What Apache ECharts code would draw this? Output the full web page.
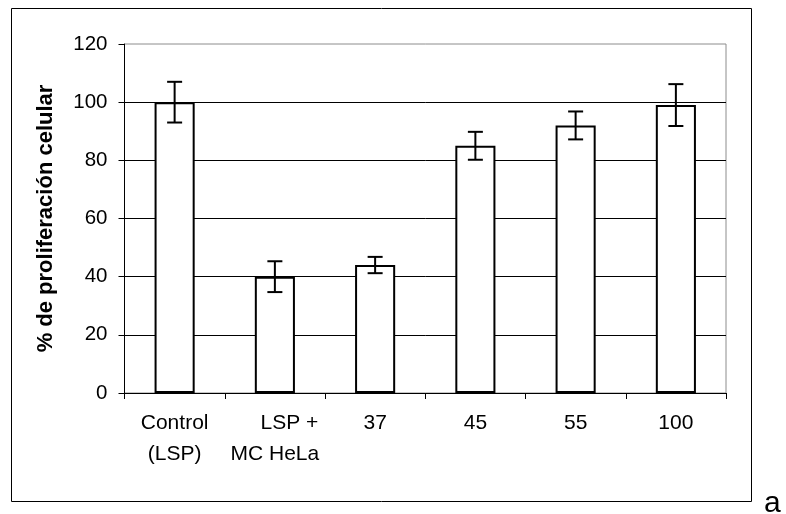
<!DOCTYPE html>
<html>
<head>
<meta charset="utf-8">
<script src="https://cdn.jsdelivr.net/npm/echarts@6/dist/echarts.min.js"></script>
<style>
html,body{margin:0;padding:0;background:#fff;}
#c{width:786px;height:514px;}
</style>
</head>
<body>
<div id="c"></div>
<script>
var categories = ['Control\n(LSP)', '     LSP +\nMC HeLa', '37', '45', '55', '100'];
var values = [100, 40, 44, 85, 92, 99];
var errors = [7, 5.3, 2.8, 4.8, 4.8, 7.2];
var yTicks = [0, 20, 40, 60, 80, 100, 120];
var yAxisName = '% de proliferación celular';
var panelLetter = 'a';

var chart = echarts.init(document.getElementById('c'), null, {renderer: 'canvas'});
var font = 'Liberation Sans, Arial, sans-serif';

var errData = values.map(function (v, i) { return [i, v - errors[i], v + errors[i]]; });

chart.setOption({
  animation: false,
  backgroundColor: '#fff',
  grid: {left: 124.5, right: 60, top: 44, bottom: 121, show: true, borderColor: '#8c8c8c', borderWidth: 1, backgroundColor: 'transparent'},
  xAxis: {
    type: 'category',
    data: categories,
    axisLine: {lineStyle: {color: '#000', width: 1}},
    axisTick: {show: true, inside: false, length: 6, alignWithLabel: false, lineStyle: {color: '#000'}},
    axisLabel: {color: '#000', fontFamily: font, fontSize: 21, lineHeight: 31, margin: 15, interval: 0, align: 'center'},
    splitLine: {show: false}
  },
  yAxis: {
    type: 'value',
    min: yTicks[0],
    max: yTicks[yTicks.length - 1],
    interval: 20,
    name: yAxisName,
    nameLocation: 'middle',
    nameGap: 68,
    nameRotate: 90,
    nameTextStyle: {color: '#000', fontFamily: font, fontSize: 22, fontWeight: 'bold'},
    axisLine: {show: true, lineStyle: {color: '#000', width: 1}},
    axisTick: {show: true, inside: false, length: 6, lineStyle: {color: '#000'}},
    axisLabel: {color: '#000', fontFamily: font, fontSize: 20.5, margin: 17},
    splitLine: {show: true, showMaxLine: false, lineStyle: {color: '#000', width: 1}}
  },
  series: [
    {
      type: 'bar',
      data: values,
      barWidth: '40%',
      itemStyle: {color: '#fff', borderColor: '#000', borderWidth: 2},
      z: 2
    },
    {
      type: 'custom',
      data: errData,
      z: 5,
      renderItem: function (params, api) {
        var x = api.value(0);
        var lo = api.coord([x, api.value(1)]);
        var hi = api.coord([x, api.value(2)]);
        var hw = 7.5;
        var style = {stroke: '#000', lineWidth: 2, fill: null};
        return {
          type: 'group',
          children: [
            {type: 'line', shape: {x1: lo[0], y1: lo[1], x2: hi[0], y2: hi[1]}, style: style},
            {type: 'line', shape: {x1: lo[0] - hw, y1: lo[1], x2: lo[0] + hw, y2: lo[1]}, style: style},
            {type: 'line', shape: {x1: hi[0] - hw, y1: hi[1], x2: hi[0] + hw, y2: hi[1]}, style: style}
          ]
        };
      }
    }
  ],
  graphic: [
    {type: 'rect', shape: {x: 11.5, y: 8.5, width: 740, height: 493}, style: {fill: null, stroke: '#000', lineWidth: 1}, silent: true},
    {type: 'text', left: 764, top: 489, style: {text: panelLetter, fill: '#000', font: '30px Liberation Sans, Arial, sans-serif'}}
  ]
});
</script>
</body>
</html>
